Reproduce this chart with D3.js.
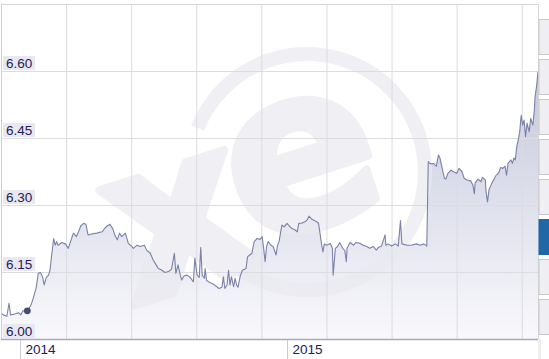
<!DOCTYPE html>
<html>
<head>
<meta charset="utf-8">
<script src="https://cdn.jsdelivr.net/npm/d3@7/dist/d3.min.js"></script>
<style>
  html, body { margin: 0; padding: 0; background: #fff; }
  svg { display: block; }
</style>
</head>
<body>
<svg id="chart" width="549" height="359"></svg>
<script>
// days after 2014-01-01
const dayOffsets = [-27,-23,-18,-15,-13,-7,-2,1,4,10,15,18,22,25,28,31,33,36,39,41,43,46,48,50,52,57,62,66,69,73,77,80,83,87,90,93,98,105,112,116,119,123,127,130,133,136,139,144,148,151,155,160,164,170,173,178,182,186,189,194,198,203,207,211,213,216,219,221,224,228,232,237,239,242,245,247,249,252,253,255,260,264,269,272,276,278,280,283,285,287,289,292,294,296,298,301,304,309,311,314,317,320,324,328,331,333,335,337,339,343,346,350,352,354,358,361,365,368,371,376,379,381,385,390,393,395,399,403,408,410,412,414,416,419,424,427,428,431,434,437,441,444,446,447,451,456,459,465,469,474,478,483,487,490,494,499,500,503,508,513,517,520,522,529,535,542,547,552,556,558,561,565,569,572,574,576,580,582,585,589,592,597,600,604,607,611,616,619,621,622,626,630,632,636,637,639,641,645,648,651,654,657,660,663,665,667,671,673,675,677,679,681,683,685,687,689,691,693,696,698,701,703,704,706,708];
const rates = [6.060,6.054,6.051,6.080,6.054,6.056,6.059,6.054,6.063,6.063,6.076,6.091,6.114,6.147,6.149,6.138,6.121,6.138,6.143,6.154,6.184,6.225,6.210,6.218,6.210,6.216,6.213,6.203,6.218,6.237,6.229,6.240,6.253,6.259,6.257,6.233,6.235,6.237,6.240,6.248,6.253,6.257,6.246,6.231,6.222,6.237,6.229,6.237,6.214,6.210,6.203,6.210,6.207,6.210,6.199,6.192,6.177,6.166,6.158,6.154,6.149,6.151,6.156,6.192,6.147,6.166,6.143,6.132,6.141,6.143,6.139,6.128,6.181,6.143,6.138,6.205,6.143,6.136,6.158,6.131,6.126,6.123,6.117,6.113,6.116,6.139,6.113,6.121,6.154,6.121,6.139,6.117,6.136,6.121,6.116,6.141,6.154,6.158,6.184,6.188,6.192,6.218,6.225,6.223,6.229,6.203,6.173,6.207,6.218,6.210,6.207,6.188,6.210,6.218,6.255,6.251,6.259,6.253,6.248,6.244,6.240,6.259,6.259,6.263,6.268,6.275,6.268,6.265,6.259,6.237,6.214,6.195,6.213,6.210,6.214,6.203,6.143,6.203,6.207,6.216,6.203,6.198,6.173,6.203,6.216,6.210,6.216,6.214,6.210,6.207,6.203,6.207,6.199,6.205,6.208,6.233,6.210,6.213,6.208,6.213,6.208,6.265,6.213,6.210,6.210,6.213,6.210,6.213,6.208,6.397,6.392,6.393,6.387,6.412,6.405,6.390,6.360,6.358,6.371,6.378,6.375,6.371,6.382,6.375,6.360,6.356,6.354,6.345,6.325,6.349,6.358,6.352,6.362,6.356,6.330,6.307,6.334,6.349,6.358,6.367,6.371,6.384,6.382,6.387,6.367,6.393,6.401,6.393,6.405,6.401,6.431,6.446,6.464,6.501,6.479,6.490,6.453,6.483,6.464,6.494,6.479,6.513,6.542,6.565,6.599];
const markerDay = 10;             // round marker on the line
const yTicks = [6.00, 6.15, 6.30, 6.45, 6.60];
const yTickLabels = ['6.00', '6.15', '6.30', '6.45', '6.60'];
const xTickDates = ['2014-01-01', '2015-01-01'];
const xTickLabels = ['2014', '2015'];
const buttonActive = [false, false, false, false, false, true, false, false];

const base = new Date(2014, 0, 1);
const parse = d3.timeParse('%Y-%m-%d');
const data = dayOffsets.map((d, i) => ({ date: d3.timeDay.offset(base, d), v: rates[i] }));

const svg = d3.select('#chart');
const L = 1, R = 538, T = 4, B = 339;

const x = d3.scaleTime()
  .domain([d3.timeDay.offset(base, -26), d3.timeDay.offset(base, 708)])
  .range([L, R]);
const y = d3.scaleLinear().domain([6.00, 6.75]).range([B, T]);

const defs = svg.append('defs');
const grad = defs.append('linearGradient').attr('id', 'areaGrad')
  .attr('gradientUnits', 'userSpaceOnUse')
  .attr('x1', 0).attr('x2', 0).attr('y1', T).attr('y2', B);
grad.append('stop').attr('offset', '0%').attr('stop-color', '#b8bcd5');
grad.append('stop').attr('offset', '100%').attr('stop-color', '#f9f9fc');
defs.append('clipPath').attr('id', 'plotClip')
  .append('rect').attr('x', L).attr('y', T).attr('width', R - L).attr('height', B - T);

// area
const gPlot = svg.append('g').attr('clip-path', 'url(#plotClip)');
gPlot.append('path').datum(data)
  .attr('fill', 'url(#areaGrad)')
  .attr('d', d3.area().x(d => x(d.date)).y0(B).y1(d => y(d.v)));

// watermark (xe logo)
const wm = svg.append('g').attr('fill', '#eaeaf0').attr('opacity', 0.72);
wm.append('path')
  .attr('transform', 'translate(307,172)')
  .attr('d', d3.arc().innerRadius(111).outerRadius(125)
    .startAngle(-68 * Math.PI / 180).endAngle(222 * Math.PI / 180)());
function wmLetter(ch, cx, cy, size) {
  wm.append('text').attr('x', cx).attr('y', cy + size * 0.28)
    .attr('text-anchor', 'middle')
    .attr('transform', `rotate(-18,${cx},${cy})`)
    .attr('font-family', 'DejaVu Sans').attr('font-weight', 'bold').attr('font-size', size)
    .attr('stroke', '#eaeaf0').attr('stroke-width', 8).attr('stroke-linejoin', 'round')
    .text(ch);
}
wmLetter('x', 180, 226, 220);
wmLetter('e', 302, 164, 225);

// grid (over area and watermark)
const gGrid = svg.append('g');
const step = (R - L) / 8.25;
d3.range(1, 9).forEach(i => {
  gGrid.append('line').attr('x1', L + 0.5 + i * step).attr('x2', L + 0.5 + i * step)
    .attr('y1', T).attr('y2', B).attr('stroke', '#dcdcdf').attr('stroke-width', 1);
});
yTicks.slice(1).forEach(t => {
  gGrid.append('line').attr('x1', L).attr('x2', R)
    .attr('y1', Math.round(y(t)) + 0.5).attr('y2', Math.round(y(t)) + 0.5)
    .attr('stroke', '#dcdcdf').attr('stroke-width', 1.2);
});

// line
const gLine = svg.append('g').attr('clip-path', 'url(#plotClip)');
gLine.append('path').datum(data)
  .attr('fill', 'none').attr('stroke', '#7a82a8').attr('stroke-width', 1.1)
  .attr('stroke-linejoin', 'round')
  .attr('d', d3.line().x(d => x(d.date)).y(d => y(d.v)));

const mk = data.find(d => d3.timeDay.count(base, d.date) === markerDay);
gLine.append('circle').attr('cx', x(mk.date)).attr('cy', y(mk.v)).attr('r', 3.4)
  .attr('fill', '#454b73');

// frame
svg.append('line').attr('x1', L).attr('x2', R).attr('y1', T + 0.5).attr('y2', T + 0.5)
  .attr('stroke', '#d6d6d6');
svg.append('line').attr('x1', L + 0.5).attr('x2', L + 0.5).attr('y1', T).attr('y2', B)
  .attr('stroke', '#cfcfcf');
svg.append('line').attr('x1', R + 0.5).attr('x2', R + 0.5).attr('y1', T).attr('y2', B)
  .attr('stroke', '#d6d6d6');
svg.append('rect').attr('x', R).attr('y', B).attr('width', 3).attr('height', 359 - B)
  .attr('fill', '#eeeeee');

// y labels
const gY = svg.append('g').attr('font-family', 'Liberation Sans, Arial, sans-serif')
  .attr('font-size', 13.5).attr('fill', '#1d2058');
yTicks.forEach((t, i) => {
  const yy = Math.round(y(t));
  gY.append('rect').attr('x', 3).attr('y', yy - 15).attr('width', 32).attr('height', 14)
    .attr('fill', '#e8e8f2');
  gY.append('text').attr('x', 6).attr('y', yy - 3).text(yTickLabels[i]);
});

// x axis
svg.append('line').attr('x1', L).attr('x2', R).attr('y1', B + 0.5).attr('y2', B + 0.5)
  .attr('stroke', '#aaa7c6').attr('stroke-width', 1.6);
const gX = svg.append('g').attr('font-family', 'Liberation Sans, Arial, sans-serif')
  .attr('font-size', 13.5).attr('fill', '#1d2058');
xTickDates.forEach((s, i) => {
  const xx = Math.round(x(parse(s))) + 0.5;
  gX.append('line').attr('x1', xx).attr('x2', xx).attr('y1', B + 1).attr('y2', 359)
    .attr('stroke', '#c9c9d2');
  gX.append('text').attr('x', xx + 5).attr('y', 354).text(xTickLabels[i]);
});

// side buttons
buttonActive.forEach((on, i) => {
  svg.append('rect').attr('x', R + 1).attr('y', 19.5 + i * 40).attr('width', 20).attr('height', 35)
    .attr('fill', on ? '#1f67a7' : '#eeeef3')
    .attr('stroke', on ? '#1f67a7' : '#c9c9c9').attr('stroke-width', 1);
});
</script>
</body>
</html>
